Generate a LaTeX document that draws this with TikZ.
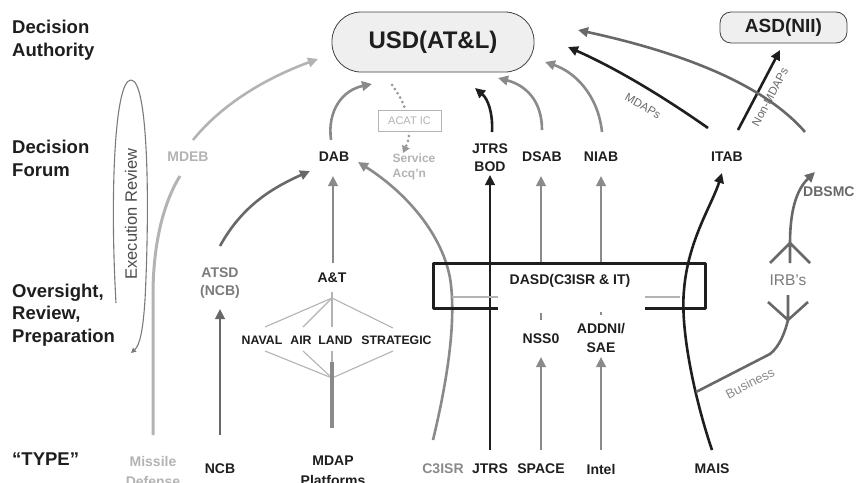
\documentclass[tikz,border=0pt]{standalone}
\usepackage{fontspec}
\setmainfont{Liberation Sans}
\usetikzlibrary{arrows.meta}

\definecolor{ink}{HTML}{1E1E1E}
\definecolor{pale}{HTML}{B3B3B3}
\definecolor{mid}{HTML}{8A8A8A}
\definecolor{steel}{HTML}{7A7A7A}
\definecolor{dim}{HTML}{686868}
\definecolor{pill}{HTML}{EFEFEF}

\tikzset{
  flow/.style={line width=2.6pt, -{Triangle[length=10pt,width=9.5pt]}},
  tag/.style={font=\bfseries\fontsize{14}{18}\selectfont, text=ink, align=center, inner sep=1pt},
  kind/.style={font=\bfseries\fontsize{14}{20}\selectfont, text=ink, align=center, inner sep=1pt},
  tier/.style={font=\bfseries\fontsize{18.5}{22.5}\selectfont, text=ink, align=left, anchor=west, inner sep=0pt},
  branch/.style={font=\bfseries\fontsize{12.3}{13}\selectfont, text=ink, inner sep=1pt},
  note/.style={font=\fontsize{11.5}{13}\selectfont, text=dim, inner sep=1pt},
  fan/.style={draw=pale, line width=1.1pt},
  stem/.style={dim, line width=2.6pt}
}

\begin{document}
\begin{tikzpicture}[x=1pt, y=1pt, line cap=butt, line join=round]
\useasboundingbox (0,0) rectangle (856,-482);

% tiers on the left
\node[tier] (authority) at (12,-40) {Decision\\Authority};
\node[tier] (forum) at (12,-158.5) {Decision\\Forum};
\node[tier] (oversight) at (12,-315) {Oversight,\\Review,\\Preparation};
\node[tier] (type) at (12,-459) {“TYPE”};

% decision authorities
\node[draw=ink!85, fill=pill, line width=0.8pt, rounded corners=29pt, minimum width=202pt, minimum height=60pt,
      font=\bfseries\fontsize{24}{28}\selectfont, text=ink] (usd) at (433,-42) {USD(AT\&L)};
\node[draw=ink!85, fill=pill, line width=0.8pt, rounded corners=11pt, minimum width=127pt, minimum height=31pt,
      font=\bfseries\fontsize{19}{22}\selectfont, text=ink] (asd) at (783.5,-27.5) {ASD(NII)};

% forums
\node[tag, text=pale] (mdeb) at (188,-157) {MDEB};
\node[tag] (dab) at (334,-157) {DAB};
\node[tag, font=\bfseries\fontsize{12}{15.5}\selectfont, text=pale, align=left] (svc) at (414,-167) {Service\\Acq’n};
\node[tag] (jtrsbod) at (490,-158) {JTRS\\BOD};
\node[tag] (dsab) at (542,-157) {DSAB};
\node[tag] (niab) at (601,-157) {NIAB};
\node[tag] (itab) at (727,-157) {ITAB};
\node[tag, text=dim, anchor=west] (dbsmc) at (802,-192) {DBSMC};

% oversight
\node[tag, text=steel] (atsd) at (220,-283) {ATSD\\(NCB)};
\node[tag] (at) at (332,-278) {A\&T};
\node[branch] (naval) at (262,-340) {NAVAL};
\node[branch] (air) at (301,-340) {AIR};
\node[branch] (land) at (335.5,-340) {LAND};
\node[branch] (strategic) at (396.5,-340) {STRATEGIC};
\node[tag] (nsso) at (541,-339) {NSS0};
\node[tag, font=\bfseries\fontsize{14}{19}\selectfont] (addni) at (601,-337.5) {ADDNI/\\SAE};
\node[font=\fontsize{15.5}{17}\selectfont, text=steel, inner sep=1pt] (irb) at (788,-280) {IRB’s};

% types
\node[kind, text=pale] (missile) at (153,-471) {Missile\\Defense};
\node[kind] (ncb) at (220,-469) {NCB};
\node[kind] (mdap) at (333,-471) {MDAP\\Platforms};
\node[kind, text=mid] (cisr) at (443,-469) {C3ISR};
\node[kind] (jtrs) at (490,-469) {JTRS};
\node[kind] (space) at (541,-469) {SPACE};
\node[kind] (intel) at (601,-469) {Intel};
\node[kind] (mais) at (712,-469) {MAIS};

% missile defense and MDEB
\draw[pale, line width=3pt] (153,-435) -- (153,-295) .. controls (153,-240) and (165,-200) .. (180,-176);
\draw[flow, pale] (193,-140) .. controls (222,-104) and (266,-78) .. (318,-59);

% execution review loop
\draw[steel, line width=1.1pt, -{Triangle[length=5pt,width=5pt]}] (116,-303) .. controls (110,-200) and (114,-80) .. (131,-80)
  .. controls (148,-80) and (150,-200) .. (145,-300) .. controls (143,-330) and (140,-345) .. (131,-353);
\node[font=\fontsize{16.5}{18}\selectfont, text=ink!80, rotate=90, inner sep=0pt] (exec) at (131,-214) {Execution Review};

% NCB and ATSD
\draw[flow, dim] (220,-435) -- (220,-309);
\draw[flow, dim] (220,-246) .. controls (242,-206) and (272,-188) .. (310,-171);

% DAB and ACAT IC
\draw[flow, mid] (331,-140) .. controls (327,-110) and (343,-90) .. (372,-84);
\draw[pale!85!black, line width=3pt, line cap=round, dash pattern=on 0pt off 5pt, -{Triangle[length=7pt,width=8pt]}]
  (392,-85) .. controls (402,-98) and (410,-115) .. (409,-135) .. controls (408,-142) .. (403,-153);
\node[draw=pale, fill=white, line width=0.8pt, minimum width=63pt, minimum height=21pt,
      font=\fontsize{11}{12}\selectfont, text=pale] (acat) at (409.5,-120.5) {ACAT IC};

% A&T and the platforms
\draw[flow, mid] (333,-263) -- (333,-176);
\coordinate (hub) at (332,-298);
\coordinate (root) at (332,-378);
\foreach \x/\y in {265/327,303/327,332/327,393/328} \draw[fan] (hub) -- (\x,-\y);
\foreach \x in {265,303,332,393} \draw[fan] (\x,-351) -- (root);
\draw[fan] (332,-292) -- (hub);
\draw[mid, line width=3.5pt] (332,-428) -- (332,-362);

% C3ISR
\draw[flow, mid] (433,-440) .. controls (445,-390) and (456,-330) .. (451,-285) .. controls (446,-240) and (410,-195) .. (358,-162);

% JTRS
\draw[flow, ink] (490,-450) -- (490,-175);
\draw[flow, ink] (492,-132) .. controls (493,-113) and (488,-99) .. (475,-88);

% DSAB, NIAB, space, intel
\draw[flow, mid] (541,-264) -- (541,-176);
\draw[flow, mid] (601,-264) -- (601,-176);
\draw[flow, mid] (542,-130) .. controls (542,-100) and (525,-85) .. (498,-78);
\draw[flow, mid] (602,-132) .. controls (598,-95) and (575,-72) .. (545,-62);
\draw[mid, line width=2.6pt] (541,-313) -- (541,-320);
\draw[mid, line width=2.6pt] (601,-311.5) -- (601,-314.5);
\draw[flow, mid] (541,-450) -- (541,-357);
\draw[flow, mid] (601,-450) -- (601,-357);

% ITAB
\draw[flow, ink] (708,-128) .. controls (668,-100) and (620,-70) .. (568,-47);
\draw[flow, ink] (738,-130) -- (780,-50);
\node[note, rotate=-30] (mdaps) at (643,-106) {MDAPs};
\node[note, rotate=62] (nonmdaps) at (770,-97) {Non-MDAPs};

% DBSMC
\draw[flow, dim] (805,-132) .. controls (760,-80) and (670,-50) .. (578,-30);

% MAIS and business
\draw[flow, ink] (712,-450) .. controls (695,-400) and (680,-330) .. (684,-290) .. controls (688,-240) and (712,-205) .. (722,-173);
\draw[stem] (696,-392) -- (770,-354) .. controls (780,-346) and (785,-332) .. (788,-320);
\node[note, font=\fontsize{13}{14}\selectfont, text=mid, rotate=27] (business) at (750,-383) {Business};

% IRB forks
\draw[stem] (768,-302) -- (788,-320) -- (808,-302) (788,-295) -- (788,-320);
\draw[stem] (770,-263) -- (790,-243) -- (810,-263) (790,-263) -- (790,-243);
\draw[flow, dim] (790,-243) .. controls (790,-212) and (796,-190) .. (815,-172);

% DASD box
\draw[pale, line width=1.5pt] (452,-297) -- (498,-297) (645,-297) -- (680,-297);
\draw[ink, line width=3pt] (498,-308) -- (433,-308) -- (433,-263) -- (705,-263) -- (705,-308) -- (645,-308);
\node[tag] (dasd) at (570,-281) {DASD(C3ISR \& IT)};
\end{tikzpicture}
\end{document}
